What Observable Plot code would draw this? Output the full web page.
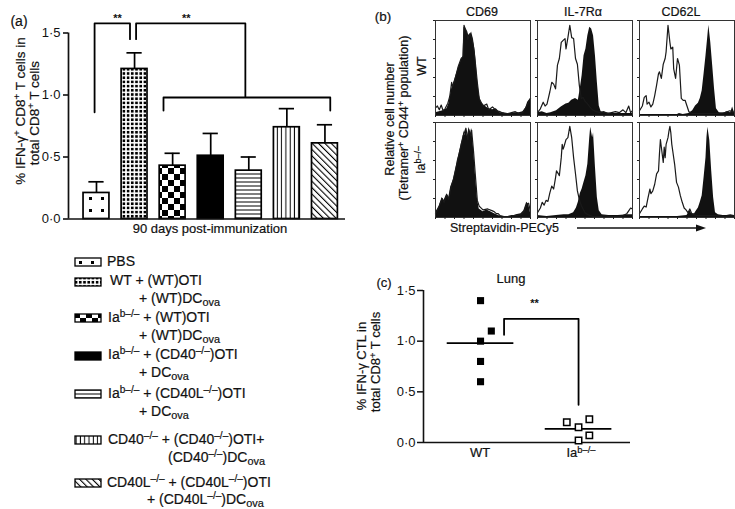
<!DOCTYPE html>
<html><head><meta charset="utf-8">
<script src="https://cdn.jsdelivr.net/npm/d3@7"></script>
<script src="https://cdn.jsdelivr.net/npm/@observablehq/plot@0.6"></script>
<style>
body{margin:0;background:#fff}
#root{position:relative;width:735px;height:509px;overflow:hidden;font-family:"Liberation Sans",Arial,Helvetica,sans-serif;color:#111}
.t{position:absolute;white-space:nowrap;line-height:1;transform:translateY(-50%);-webkit-text-stroke:0.2px #111}
.c{transform:translate(-50%,-50%)}
.r{transform:translate(-50%,-50%) rotate(-90deg)}
sub{font-size:.78em;vertical-align:baseline;position:relative;top:.32em;line-height:0}
sup{font-size:.72em;vertical-align:baseline;position:relative;top:-.48em;line-height:0}
</style></head><body>
<div id="root">
<svg width="0" height="0" style="position:absolute"><defs>
 <pattern id="pPBS" patternUnits="userSpaceOnUse" width="12" height="12"><rect width="12" height="12" fill="#fff"/><rect x="5" y="5" width="3" height="3" fill="#000"/></pattern>
 <pattern id="pDots" patternUnits="userSpaceOnUse" width="4.2" height="4.2"><rect width="4.2" height="4.2" fill="#fff"/><rect x="0.8" y="0.8" width="2.6" height="2.6" fill="#000"/></pattern>
 <pattern id="pChecker" patternUnits="userSpaceOnUse" width="12" height="12"><rect width="12" height="12" fill="#fff"/><rect width="6" height="6" fill="#000"/><rect x="6" y="6" width="6" height="6" fill="#000"/></pattern>
 <pattern id="pH" patternUnits="userSpaceOnUse" width="4" height="4"><rect width="4" height="4" fill="#fff"/><rect y="1.5" width="4" height="1" fill="#000"/></pattern>
 <pattern id="pV" patternUnits="userSpaceOnUse" width="4.3" height="4"><rect width="4.3" height="4" fill="#fff"/><rect x="1.6" width="1" height="4" fill="#000"/></pattern>
 <pattern id="pDiag" patternUnits="userSpaceOnUse" width="4.5" height="4.5" patternTransform="rotate(-45)"><rect width="4.5" height="4.5" fill="#fff"/><rect x="1.8" width="1.1" height="4.5" fill="#000"/></pattern>
</defs></svg>
</div>
<script>
// ---------- Panel (a) data ----------
const groupKeys = ["PBS", "WT+(WT)OTI+(WT)DCova", "Iab-/-+(WT)OTI+(WT)DCova", "Iab-/-+(CD40-/-)OTI+DCova",
  "Iab-/-+(CD40L-/-)OTI+DCova", "CD40-/-+(CD40-/-)OTI+(CD40-/-)DCova", "CD40L-/-+(CD40L-/-)OTI+(CD40L-/-)DCova"];
const meanIFN = [0.21, 1.21, 0.43, 0.51, 0.39, 0.74, 0.61];
const semIFN = [0.09, 0.13, 0.10, 0.18, 0.11, 0.15, 0.15];
const yTicksA = [0, 0.5, 1.0, 1.5];

// ---------- Panel (b) data: [channel, % of max] ----------
const cd69WTFill = [[0,3],[4,4],[8,5],[12,7],[14,12],[17,28],[20,37],[24,50],[27,58],[29,62],[30,93],[32,91],[34,86],[36,84],[38,88],[40,80],[42,66],[44,40],[46,22],[48,14],[52,10],[56,7],[60,6],[64,7],[68,3],[72,3],[76,2],[80,2],[84,3],[88,3],[92,4],[95,8],[97,14],[100,18]];
const cd69WTOpen = [[0,8],[2,10],[4,6],[6,11],[8,5],[10,7],[13,13],[15,20],[17,35],[18,30],[20,36],[24,52],[27,60],[29,62],[30,95],[31,92],[33,88],[34,80],[36,86],[38,82],[40,72],[42,55],[44,35],[46,18],[50,10],[54,12],[56,6],[60,9],[64,5],[68,4],[72,2],[76,2],[80,3],[84,4],[88,2],[92,3],[96,10],[100,18]];
const il7WTOpen = [[0,3],[3,7],[6,14],[8,10],[10,12],[13,25],[15,35],[17,33],[19,28],[21,53],[23,60],[25,77],[27,79],[29,81],[30,70],[32,82],[34,95],[36,82],[38,81],[40,60],[42,54],[44,32],[46,18],[48,19],[50,15],[52,13],[55,9],[58,6],[62,4],[66,3],[70,4],[74,2],[78,3],[82,4],[86,3],[90,6],[93,3],[96,10],[98,3],[100,5]];
const il7WTFill = [[0,3],[5,4],[10,2],[14,3],[20,5],[25,9],[30,12],[33,13],[36,16],[40,18],[43,16],[45,28],[47,42],[49,63],[51,70],[53,84],[55,93],[57,91],[59,84],[61,63],[63,35],[65,10],[67,4],[72,3],[80,2],[90,2],[100,2]];
const cd62lWTOpen = [[0,5],[3,10],[5,19],[7,21],[8,12],[10,14],[12,9],[14,12],[16,21],[18,32],[20,44],[21,46],[23,39],[25,54],[27,60],[28,67],[30,95],[32,77],[33,70],[35,72],[36,49],[38,39],[40,60],[42,53],[44,18],[46,16],[48,16],[50,10],[52,4],[56,2],[60,2],[70,2],[80,2],[90,3],[95,5],[100,3]];
const cd62lWTFill = [[0,1],[40,1],[42,2],[46,1],[52,2],[56,5],[59,10],[62,13],[64,18],[66,26],[68,44],[70,63],[72,84],[73,95],[75,77],[77,53],[79,28],[81,7],[84,3],[88,2],[92,4],[96,3],[98,9],[100,3]];
const cd69IabFill = [[0,5],[4,12],[7,21],[9,18],[12,25],[14,21],[16,32],[19,40],[21,49],[23,60],[25,67],[27,77],[29,84],[30,91],[31,86],[32,93],[34,84],[35,95],[37,88],[38,94],[40,74],[42,46],[44,21],[46,9],[50,6],[54,8],[58,6],[62,4],[66,2],[70,1],[75,1],[80,1],[85,3],[90,4],[93,7],[96,16],[98,14],[100,5]];
const cd69IabOpen = [[0,4],[3,9],[5,15],[7,20],[9,16],[12,24],[14,19],[16,30],[19,41],[21,50],[23,58],[25,68],[27,76],[29,86],[30,88],[32,94],[34,82],[35,93],[37,86],[38,92],[40,70],[42,44],[44,18],[46,12],[50,8],[55,9],[60,7],[62,6],[64,4],[66,4],[68,2],[72,1],[76,1],[80,2],[85,2],[90,3],[93,6],[96,14],[98,15],[100,6]];
const il7IabOpen = [[0,5],[3,10],[5,16],[7,13],[9,18],[11,17],[13,26],[15,33],[17,30],[19,42],[20,49],[22,46],[23,44],[25,63],[26,77],[27,72],[28,75],[30,82],[32,84],[34,96],[36,84],[38,63],[40,46],[42,28],[44,19],[46,13],[48,9],[50,5],[53,3],[58,1],[65,1],[70,2],[75,1],[80,1],[85,1],[90,2],[94,4],[96,7],[98,10],[100,9]];
const il7IabFill = [[0,2],[10,1],[20,2],[28,3],[33,3],[38,5],[41,10],[43,16],[45,25],[47,30],[49,37],[51,44],[53,56],[55,84],[56,95],[58,84],[59,89],[61,53],[63,21],[65,7],[68,3],[75,2],[85,2],[95,3],[100,3]];
const cd62lIabOpen = [[0,4],[3,9],[5,12],[7,11],[9,21],[11,30],[12,25],[14,28],[16,35],[18,46],[20,49],[21,67],[22,82],[23,74],[25,58],[26,74],[27,63],[28,77],[30,84],[31,91],[32,96],[33,89],[34,77],[35,70],[37,56],[39,37],[41,32],[43,23],[45,16],[47,10],[49,8],[51,5],[53,9],[55,4],[60,2],[65,2],[70,2],[80,2],[90,1],[100,2]];
const cd62lIabFill = [[0,1],[40,1],[50,2],[53,7],[55,4],[58,4],[60,7],[62,10],[64,16],[66,23],[68,42],[70,63],[71,84],[72,95],[74,81],[76,49],[78,21],[80,5],[83,3],[88,2],[92,2],[96,3],[100,2]];
const markers = ["CD69", "IL-7Rα", "CD62L"];
const genotypes = ["WT", "Iab-/-"];

// ---------- Panel (c) data ----------
const lungGroups = ["WT", "Iab-/-"];
const lungWT = [1.40, 1.10, 1.00, 0.80, 0.60];
const lungWTjitter = [0, 0.11, 0, 0, 0];
const lungIab = [0.20, 0.23, 0.15, 0.07, 0.02];
const lungIabJitter = [-0.12, 0.11, 0, 0.11, 0];
const yTicksC = [0, 0.5, 1.0, 1.5];

// ---------- helpers ----------
const root = document.getElementById("root");
const FONT = '"Liberation Sans", Arial, Helvetica, sans-serif';
function put(el, left, top) {
  el.style.position = "absolute"; el.style.left = left + "px"; el.style.top = top + "px";
  root.appendChild(el);
}
function label(html, x, y, size, cls) {
  const d = document.createElement("div");
  d.className = "t" + (cls ? " " + cls : "");
  d.innerHTML = html;
  d.style.left = x + "px"; d.style.top = y + "px"; d.style.fontSize = size + "px";
  root.appendChild(d);
  return d;
}
const dotFmt = d => d.toFixed(1).replace(".", "·");
const IAB = 'Ia<sup>b–/–</sup>';
const KO = '<sup>–/–</sup>';

// ---------- Panel (a) ----------
const fills = ["url(#pPBS)", "url(#pDots)", "url(#pChecker)", "#000", "url(#pH)", "url(#pV)", "url(#pDiag)"];
const idx = groupKeys.map((_, i) => i + 1);
const bw = 0.34, cap = 0.2;
const sigA = [
  [[0.95, 0.86], [0.95, 1.577], [1.88, 1.577], [1.88, 1.45]],
  [[2.04, 1.45], [2.04, 1.577], [4.91, 1.577], [4.91, 0.985]],
  [[2.76, 0.875], [2.76, 0.98], [7.14, 0.98], [7.14, 0.875]]
];
const starsA = [{x: 1.55, y: 1.62}, {x: 3.36, y: 1.62}];
const I = d3.range(groupKeys.length);
const plotA = Plot.plot({
  width: 350, height: 240, marginLeft: 68, marginRight: 5, marginTop: 32.5, marginBottom: 21.5,
  style: {fontFamily: FONT, fontSize: "13px", background: "transparent", color: "#111", overflow: "visible"},
  x: {domain: [0.265, 7.54], axis: null},
  y: {domain: [0, 1.5], axis: null},
  marks: [
    ...I.map(i => Plot.rect([i], {x1: d => idx[d] - bw, x2: d => idx[d] + bw, y1: 0, y2: d => meanIFN[d], fill: fills[i], stroke: "#000", strokeWidth: 1.7})),
    Plot.ruleX(I, {x: d => idx[d], y1: d => meanIFN[d], y2: d => meanIFN[d] + semIFN[d], stroke: "#000", strokeWidth: 1.7}),
    Plot.ruleY(I, {y: d => meanIFN[d] + semIFN[d], x1: d => idx[d] - cap, x2: d => idx[d] + cap, stroke: "#000", strokeWidth: 1.7}),
    ...sigA.map(b => Plot.line(b, {x: d => d[0], y: d => d[1], stroke: "#000", strokeWidth: 1.8})),
    Plot.text(starsA, {x: "x", y: "y", text: () => "**", fontSize: 11, fontWeight: "bold"}),
    Plot.ruleX([0.265], {y1: 0, y2: 1.5, strokeWidth: 1.7}),
    Plot.ruleY([0], {strokeWidth: 1.7}),
    Plot.axisY({ticks: yTicksA, tickFormat: dotFmt, tickSize: 5, tickPadding: 3, strokeWidth: 1.6, label: null, fontSize: 13, fill: "#111"})
  ]
});
put(plotA, 0, 0);
label("(a)", 19, 21, 14, "c");
label('% IFN-γ<sup>+</sup> CD8<sup>+</sup> T cells in', 21, 111, 13.5, "r");
label('total CD8<sup>+</sup> T cells', 35, 113, 13.5, "r");
label("90 days post-immunization", 210, 228, 13, "c");

// legend for (a)
const legendRows = [
  {y: 262, lines: [["PBS", 107, 261]]},
  {y: 282, lines: [["WT + (WT)OTI", 110, 280], ["+ (WT)DC<sub>ova</sub>", 139, 298]]},
  {y: 318, lines: [[IAB + " + (WT)OTI", 108, 317], ["+ (WT)DC<sub>ova</sub>", 139, 335]]},
  {y: 356, lines: [[IAB + " + (CD40" + KO + ")OTI", 108, 354], ["+ DC<sub>ova</sub>", 139, 372]]},
  {y: 394, lines: [[IAB + " + (CD40L" + KO + ")OTI", 108, 393], ["+ DC<sub>ova</sub>", 139, 411]]},
  {y: 440, lines: [["CD40" + KO + " + (CD40" + KO + ")OTI+", 108, 439], ["(CD40" + KO + ")DC<sub>ova</sub>", 168, 457]]},
  {y: 483, lines: [["CD40L" + KO + " + (CD40L" + KO + ")OTI", 107, 482], ["+ (CD40L" + KO + ")DC<sub>ova</sub>", 147, 499]]}
];
legendRows.forEach((row, i) => {
  const s = document.createElementNS("http://www.w3.org/2000/svg", "svg");
  s.setAttribute("width", 30); s.setAttribute("height", 12);
  s.innerHTML = `<rect x="1" y="2" width="26" height="8" fill="${fills[i]}" stroke="#000" stroke-width="1.3"/>`;
  put(s, 74, row.y - 6);
  row.lines.forEach(([h, x, y]) => label(h, x, y, 14));
});

// ---------- Panel (b) ----------
const histData = {
  "CD69|WT": [cd69WTFill, cd69WTOpen], "IL-7Rα|WT": [il7WTFill, il7WTOpen], "CD62L|WT": [cd62lWTFill, cd62lWTOpen],
  "CD69|Iab-/-": [cd69IabFill, cd69IabOpen], "IL-7Rα|Iab-/-": [il7IabFill, il7IabOpen], "CD62L|Iab-/-": [cd62lIabFill, cd62lIabOpen]
};
const colLeft = [435, 537, 639], rowTop = [20, 122];
genotypes.forEach((g, r) => markers.forEach((m, c) => {
  const [filled, open] = histData[m + "|" + g];
  const p = Plot.plot({
    width: 99, height: 99, marginLeft: 3, marginRight: 1, marginTop: 1, marginBottom: 3,
    style: {background: "transparent", color: "#222", overflow: "visible"},
    x: {domain: [0, 100], axis: null},
    y: {domain: [0, 100], axis: null},
    marks: [
      Plot.areaY(filled, {x: d => d[0], y: d => d[1], fill: "#111"}),
      Plot.lineY(open, {x: d => d[0], y: d => d[1], stroke: "#1a1a1a", strokeWidth: 1.2}),
      Plot.frame({stroke: "#333", strokeWidth: 1}),
      Plot.axisY({ticks: [20, 40, 60, 80, 100], tickSize: 2, tickFormat: () => "", label: null}),
      Plot.axisX({ticks: d3.range(0, 101, 10), tickSize: 2, tickFormat: () => "", label: null})
    ]
  });
  put(p, colLeft[c] - 3, rowTop[r] - 1);
}));
label("(b)", 383, 17, 13.5, "c");
label("CD69", 482, 12, 12.5, "c");
label("IL-7Rα", 583, 12, 12.5, "c");
label("CD62L", 681, 12, 12.5, "c");
label("WT", 422, 66, 12.5, "r");
label(IAB, 421, 160, 12.5, "r");
label("Relative cell number", 390, 119, 12.5, "r");
label('(Tetramer<sup>+</sup> CD44<sup>+</sup> population)', 404, 118, 12.5, "r");
label("Streptavidin-PECy5", 450, 228, 12.5);
const arr = document.createElementNS("http://www.w3.org/2000/svg", "svg");
arr.setAttribute("width", 140); arr.setAttribute("height", 12);
arr.innerHTML = '<line x1="2" y1="6" x2="124" y2="6" stroke="#111" stroke-width="1.3"/><path d="M121,2.5 L131,6 L121,9.5 Z" fill="#111"/>';
put(arr, 575, 222);

// ---------- Panel (c) ----------
const wtIdx = d3.range(lungWT.length), iabIdx = d3.range(lungIab.length);
const lungMeans = [{g: 1, v: d3.mean(lungWT)}, {g: 2, v: d3.mean(lungIab)}];
const sigC = [[1.24, 1.063], [1.24, 1.22], [2.0, 1.22], [2.0, 0.372]];
const plotC = Plot.plot({
  width: 260, height: 190, marginLeft: 43, marginRight: 10, marginTop: 20, marginBottom: 18,
  style: {fontFamily: FONT, fontSize: "13px", background: "transparent", color: "#111", overflow: "visible"},
  x: {domain: [0.418, 2.53], axis: null},
  y: {domain: [0, 1.5], axis: null},
  marks: [
    Plot.ruleX([0.418], {y1: 0, y2: 1.5, strokeWidth: 1.6}),
    Plot.ruleY([0], {strokeWidth: 1.6}),
    Plot.axisY({ticks: yTicksC, tickFormat: dotFmt, tickSize: 6, tickPadding: 2, strokeWidth: 1.5, label: null, fontSize: 13, fill: "#111"}),
    Plot.ruleY(lungMeans, {y: "v", x1: d => d.g - 0.34, x2: d => d.g + 0.34, stroke: "#000", strokeWidth: 1.7}),
    Plot.dot(wtIdx, {x: i => 1 + lungWTjitter[i], y: i => lungWT[i], symbol: "square", r: 4, fill: "#000", stroke: "none"}),
    Plot.dot(iabIdx, {x: i => 2 + lungIabJitter[i], y: i => lungIab[i], symbol: "square", r: 3.6, fill: "#fff", stroke: "#000", strokeWidth: 1.5}),
    Plot.line(sigC, {x: d => d[0], y: d => d[1], stroke: "#000", strokeWidth: 1.8}),
    Plot.text([{x: 1.55, y: 1.375}], {x: "x", y: "y", text: () => "**", fontSize: 11, fontWeight: "bold"})
  ]
});
put(plotC, 380, 270);
label("(c)", 384, 282, 13, "c");
label("Lung", 511, 278, 13, "c");
label('% IFN-γ CTL in', 361, 366, 13, "r");
label('total CD8<sup>+</sup> T cells', 375, 362, 13, "r");
label("WT", 480, 452, 13, "c");
label(IAB, 581, 452, 13, "c");
</script>
</body></html>
